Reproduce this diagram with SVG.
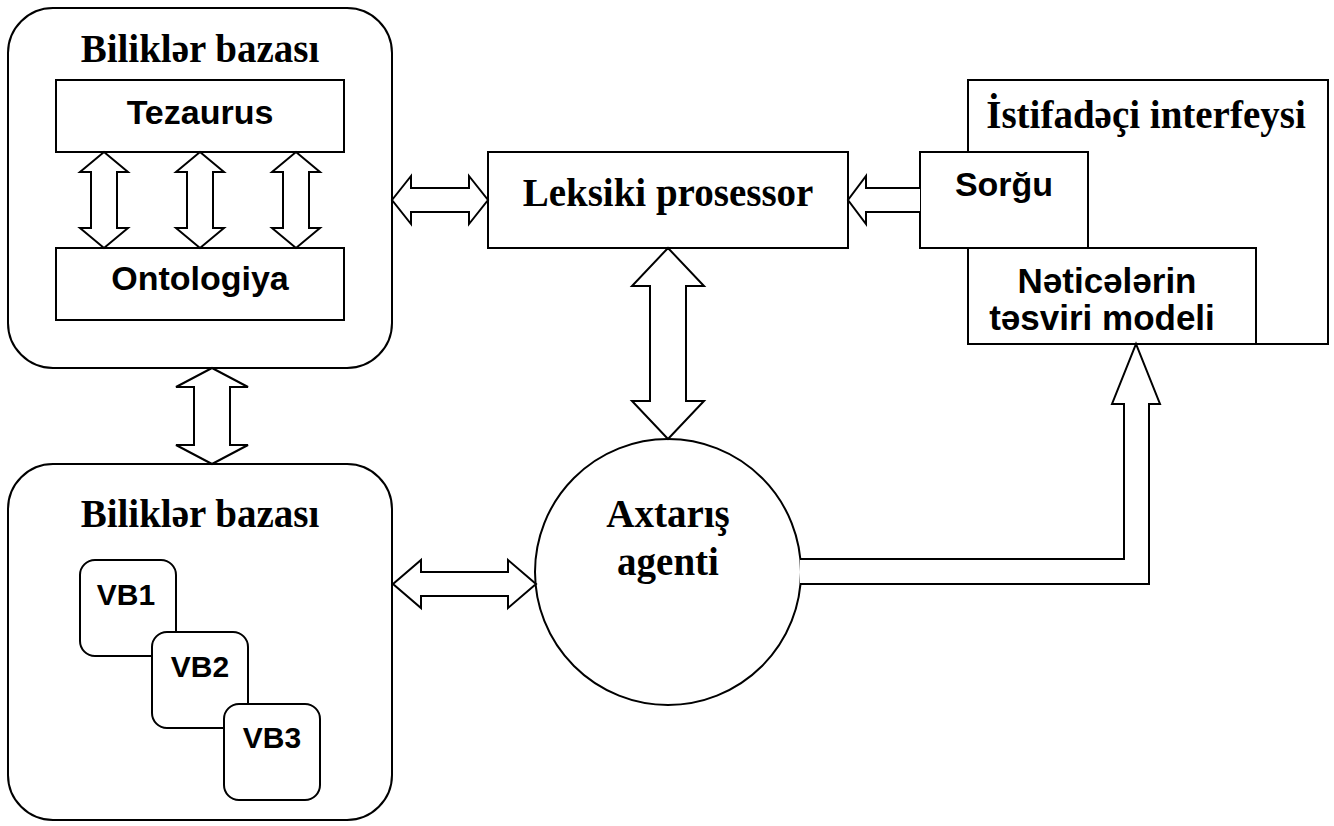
<svg xmlns="http://www.w3.org/2000/svg" width="1334" height="826" viewBox="0 0 1334 826">
<style>
.box{fill:#fff;stroke:#000;stroke-width:2}
.conn{fill:#fff;stroke:#000;stroke-width:2;stroke-linejoin:miter}
.serif{font-family:"Liberation Serif","Times New Roman",serif;font-weight:bold;font-size:39px;fill:#000;text-anchor:middle}
.sans{font-family:"Liberation Sans",Arial,sans-serif;font-weight:bold;font-size:34px;fill:#000;text-anchor:middle}
.vb{font-family:"Liberation Sans",Arial,sans-serif;font-weight:bold;font-size:30px;fill:#000;text-anchor:middle}
</style>
<rect width="1334" height="826" fill="#fff"/>
<g id="kb-top">
<rect class="box" x="8" y="8" width="384" height="360" rx="45" ry="45"/>
<text class="serif" x="200" y="62">Biliklər bazası</text>
</g>
<g id="tezaurus">
<rect class="box" x="56" y="80" width="288" height="72"/>
<text class="sans" x="200" y="124">Tezaurus</text>
</g>
<g id="ontologiya">
<rect class="box" x="56" y="248" width="288" height="72"/>
<text class="sans" x="200" y="290">Ontologiya</text>
</g>
<g id="kb-bottom">
<rect class="box" x="8" y="464" width="384" height="356" rx="45" ry="45"/>
<text class="serif" x="200" y="527">Biliklər bazası</text>
</g>
<g id="vb1">
<rect class="box" x="80" y="560" width="96" height="96" rx="15" ry="15"/>
<text class="vb" x="126" y="605">VB1</text>
</g>
<g id="vb2">
<rect class="box" x="152" y="632" width="96" height="96" rx="15" ry="15"/>
<text class="vb" x="200" y="677">VB2</text>
</g>
<g id="vb3">
<rect class="box" x="224" y="704" width="96" height="96" rx="15" ry="15"/>
<text class="vb" x="272" y="748">VB3</text>
</g>
<g id="leksiki">
<rect class="box" x="488" y="152" width="360" height="96"/>
<text class="serif" x="668" y="206">Leksiki prosessor</text>
</g>
<g id="axtaris">
<circle class="box" cx="668" cy="572" r="133"/>
<text class="serif" x="668" y="527">Axtarış</text>
<text class="serif" x="668" y="575">agenti</text>
</g>
<g id="interfeys">
<rect class="box" x="968" y="80" width="360" height="264"/>
<text class="serif" x="1146" y="128">İstifadəçi interfeysi</text>
</g>
<g id="sorgu">
<rect class="box" x="920" y="152" width="168" height="96"/>
<text class="sans" x="1004" y="196">Sorğu</text>
</g>
<g id="neticeler">
<rect class="box" x="968" y="248" width="288" height="96"/>
<text class="sans" x="1107" y="293" style="font-size:35px">Nəticələrin</text>
<text class="sans" x="1102" y="330" style="font-size:35px">təsviri modeli</text>
</g>
<g id="connectors">
<polygon class="conn" points="104,152 128,172 117,172 117,228 128,228 104,248 80,228 91,228 91,172 80,172"/>
<polygon class="conn" points="200,152 224,172 213,172 213,228 224,228 200,248 176,228 187,228 187,172 176,172"/>
<polygon class="conn" points="296,152 320,172 309,172 309,228 320,228 296,248 272,228 283,228 283,172 272,172"/>
<polygon class="conn" points="212,368 248,387 230,387 230,445 248,445 212,464 176,445 194,445 194,387 176,387"/>
<polygon class="conn" points="668,248 704,286 686,286 686,401 704,401 668,439 632,401 650,401 650,286 632,286"/>
<polygon class="conn" points="392,200 411,176 411,188 469,188 469,176 488,200 469,224 469,212 411,212 411,224"/>
<polygon class="conn" points="393,584 421,560 421,572 508,572 508,560 536,584 508,608 508,596 421,596 421,608"/>
<path class="conn" d="M920,188 L866,188 L866,176 L848,200 L866,224 L866,212 L920,212"/>
<path class="conn" d="M800,559 L1124,559 L1124,404 L1112,404 L1136,344 L1160,404 L1149,404 L1149,584 L800,584"/>
</g>
</svg>
